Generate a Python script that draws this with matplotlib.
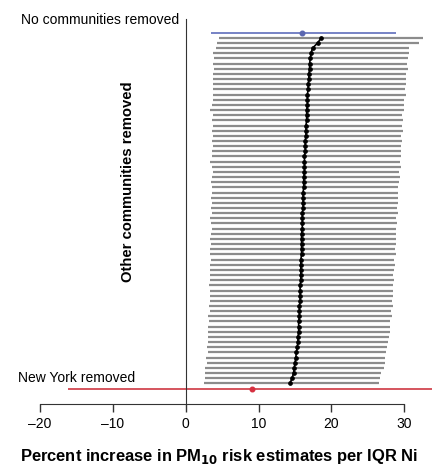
import matplotlib
matplotlib.use("Agg")
import matplotlib.pyplot as plt

plt.rcParams['font.family'] = ['Liberation Sans', 'DejaVu Sans']

# estimates with all communities (top) and without New York (bottom)
all_est, all_lo, all_hi = 16.0, 3.5, 28.8
ny_est, ny_lo, ny_hi = 9.1, -16.2, 36.0

# leave-one-out estimates, other communities removed (top to bottom)
center = [18.6, 18.1, 17.4,
          17.2, 17.1, 17.0, 17.0, 16.9, 16.9, 16.8,
          16.8, 16.7, 16.7, 16.7, 16.6, 16.6, 16.6, 16.5, 16.5, 16.5,
          16.4, 16.4, 16.4, 16.3, 16.3, 16.3, 16.3, 16.2, 16.2, 16.2,
          16.1, 16.1, 16.1, 16.1, 16.0, 16.0, 16.0, 16.0, 15.9, 15.9,
          15.9, 15.9, 15.9, 15.8, 15.8, 15.8, 15.8, 15.8, 15.7, 15.7,
          15.7, 15.7, 15.6, 15.6, 15.6, 15.5, 15.5, 15.5, 15.4, 15.4,
          15.3, 15.2, 15.1, 15.0, 14.9, 14.8, 14.6, 14.3]
lower = [4.6, 4.3, 4.1,
         3.8, 3.9, 3.8, 3.9, 3.8, 3.7, 3.8,
         3.7, 3.8, 3.7, 3.6, 3.4, 3.7, 3.6, 3.7, 3.6, 3.7,
         3.6, 3.7, 3.6, 3.6, 3.4, 3.6, 3.7, 3.6, 3.5, 3.6,
         3.6, 3.5, 3.6, 3.5, 3.6, 3.4, 3.5, 3.6, 3.5, 3.4,
         3.5, 3.4, 3.3, 3.5, 3.4, 3.3, 3.4, 3.3, 3.2, 3.3,
         3.4, 3.3, 3.2, 3.3, 3.1, 3.2, 3.1, 3.0, 3.1, 3.0,
         2.9, 3.0, 2.8, 2.9, 2.7, 2.6, 2.6, 2.5]
upper = [32.5, 32.0, 30.6,
         30.6, 30.5, 30.4, 30.5, 30.3, 30.2, 30.3,
         30.1, 30.2, 30.0, 29.9, 30.0, 29.7, 29.8, 29.7, 29.8, 29.6,
         29.7, 29.5, 29.6, 29.5, 29.4, 29.5, 29.3, 29.4, 29.3, 29.2,
         29.2, 29.1, 29.2, 29.0, 29.1, 28.9, 29.0, 28.9, 28.8, 28.9,
         28.8, 28.7, 28.8, 28.6, 28.7, 28.6, 28.5, 28.6, 28.4, 28.5,
         28.4, 28.3, 28.4, 28.2, 28.3, 28.1, 28.0, 28.1, 27.9, 27.8,
         27.6, 27.5, 27.4, 27.3, 27.2, 26.8, 26.7, 26.5]

xticks = [-20, -10, 0, 10, 20, 30]

fig = plt.figure(figsize=(4.32, 4.67), dpi=100)
ax = fig.add_axes([40/432, 1 - 404/467, 392/432, 385/467])

rows = list(range(1, len(center) + 1))
ax.hlines(rows, lower, upper, color='#8c8c8c', lw=1.6)
ax.plot(center, rows, 'o-', color='black', ms=2.4, lw=1.2)

ax.hlines(0, all_lo, all_hi, color='#6b78c0', lw=1.3)
ax.plot(all_est, 0, 'o', color='#5a66b0', ms=3.3)
n_red = len(center) + 1
ax.hlines(n_red, ny_lo, ny_hi, color='#d24650', lw=1.3)
ax.plot(ny_est, n_red, 'o', color='#d63040', ms=3.3)

ax.set_xlim(-20, 33.8)
ax.set_ylim(72.0, -2.65)

ax.spines['top'].set_visible(False)
ax.spines['right'].set_visible(False)
ax.spines['left'].set_position(('data', 0))
ax.spines['left'].set_color('#333333')
ax.spines['bottom'].set_bounds(-20, 30)
ax.spines['bottom'].set_color('#333333')
ax.set_yticks([])
ax.set_xticks(xticks)
ax.set_xticklabels(['\u201320', '\u201310', '0', '10', '20', '30'], fontsize=10)
ax.tick_params(axis='x', direction='out', length=6, width=1, color='#333333', pad=3)

ax.text(-0.9, -2.45, 'No communities removed', ha='right', va='center',
        fontsize=10, clip_on=False)
ax.text(-23.0, 66.9, 'New York removed', ha='left', va='center',
        fontsize=10, clip_on=False)

fig.text(128/432, 1 - 182/467, 'Other communities removed', rotation=90,
         ha='center', va='center', fontsize=10.7, fontweight='bold')
fig.text(20/432, 1 - 456/467,
         'Percent increase in PM$_\\mathbf{10}$ risk estimates per IQR Ni',
         ha='left', va='center', fontsize=11.9, fontweight='bold')

fig.savefig('out.png', dpi=100)
